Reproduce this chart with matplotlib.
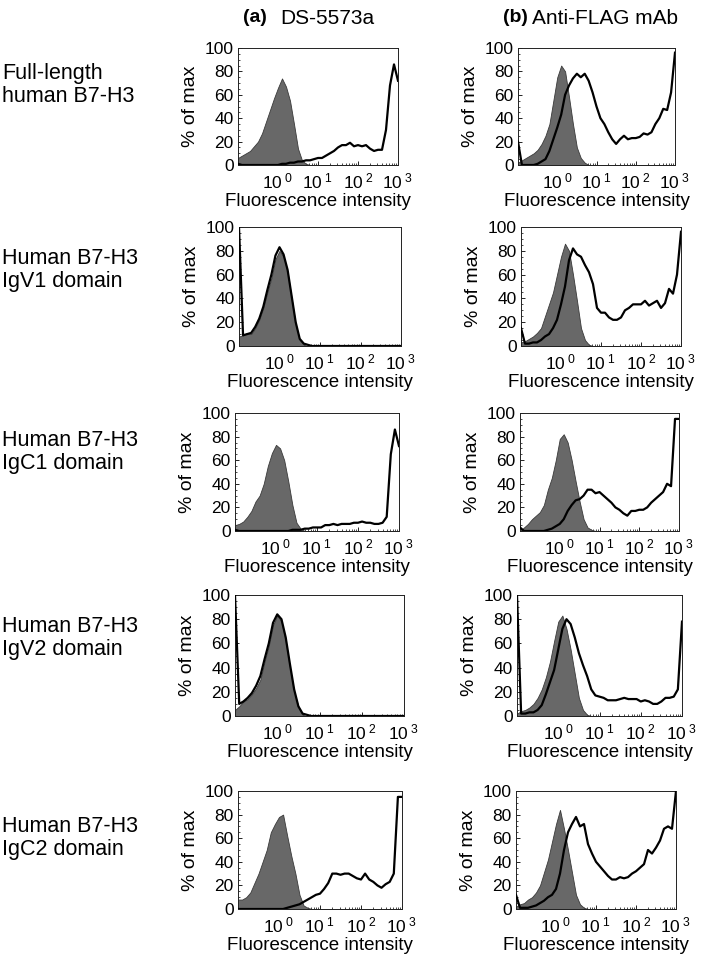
import matplotlib as mpl
import matplotlib.pyplot as plt
from matplotlib.ticker import FixedLocator, LogLocator, MultipleLocator, NullFormatter
import numpy as np

mpl.rcParams['font.family'] = ['Liberation Sans', 'DejaVu Sans']
mpl.rcParams['mathtext.fontset'] = 'custom'
mpl.rcParams['mathtext.rm'] = 'Liberation Sans'
mpl.rcParams['mathtext.it'] = 'Liberation Sans:italic'
mpl.rcParams['mathtext.bf'] = 'Liberation Sans:bold'

# bin centres, log10 of fluorescence intensity
log_x = [-1.0, -0.9, -0.8, -0.7, -0.6, -0.5, -0.4, -0.3, -0.2, -0.1,
         0.0, 0.1, 0.2, 0.3, 0.4, 0.5, 0.6, 0.7, 0.8, 0.9,
         1.0, 1.1, 1.2, 1.3, 1.4, 1.5, 1.6, 1.7, 1.8, 1.9,
         2.0, 2.1, 2.2, 2.3, 2.4, 2.5, 2.6, 2.7, 2.8, 2.9, 3.0]

row_labels = ['Full-length\nhuman B7-H3', 'Human B7-H3\nIgV1 domain', 'Human B7-H3\nIgC1 domain',
              'Human B7-H3\nIgV2 domain', 'Human B7-H3\nIgC2 domain']
col_tags = ['(a)', '(b)']
col_titles = ['DS-5573a', 'Anti-FLAG mAb']
tick_vals = [1, 10, 100, 1000]
tick_texts = [r'$\mathregular{10^{\ 0}}$', r'$\mathregular{10^{\ 1}}$',
              r'$\mathregular{10^{\ 2}}$', r'$\mathregular{10^{\ 3}}$']

# column (a): DS-5573a ; gray = control, line = stained
a1_ctrl = [6, 8, 10, 12, 16, 20, 27, 37, 47, 57, 66, 74, 67, 55, 35, 14, 4, 1, 0, 0,
           0, 0, 0, 0, 0, 0, 0, 0, 0, 0, 0, 0, 0, 0, 0, 0, 0, 0, 0, 0, 0]
a1_samp = [1, 0, 0, 0, 0, 0, 0, 0, 0, 0, 0, 1, 1, 2, 2, 3, 3, 4, 4, 5,
           6, 6, 8, 10, 12, 15, 17, 17, 19, 16, 17, 16, 17, 14, 12, 13, 13, 30, 68, 86, 72]
a2_ctrl = [8, 9, 11, 10, 15, 22, 32, 45, 57, 73, 80, 75, 62, 40, 18, 5, 1, 0, 0, 0,
           0, 0, 0, 0, 0, 0, 0, 0, 0, 0, 0, 0, 0, 0, 0, 0, 0, 0, 0, 0, 0]
a2_samp = [100, 9, 10, 11, 16, 23, 33, 47, 60, 76, 83, 77, 64, 42, 20, 6, 2, 1, 0, 0,
           0, 0, 0, 0, 0, 0, 0, 0, 0, 0, 0, 0, 0, 0, 0, 0, 0, 0, 0, 0, 0]
a3_ctrl = [5, 6, 8, 12, 17, 25, 30, 40, 55, 66, 73, 70, 60, 42, 22, 7, 2, 0, 0, 0,
           0, 0, 0, 0, 0, 0, 0, 0, 0, 0, 0, 0, 0, 0, 0, 0, 0, 0, 0, 0, 0]
a3_samp = [1, 0, 0, 0, 0, 0, 0, 0, 0, 0, 0, 0, 0, 0, 1, 1, 1, 2, 2, 3,
           3, 3, 5, 5, 6, 5, 6, 6, 6, 7, 7, 8, 7, 7, 6, 6, 7, 12, 65, 86, 72]
a4_ctrl = [5, 8, 12, 14, 18, 23, 30, 45, 58, 75, 83, 78, 62, 40, 20, 8, 1, 0, 0, 0,
           0, 0, 0, 0, 0, 0, 0, 0, 0, 0, 0, 0, 0, 0, 0, 0, 0, 0, 0, 0, 0]
a4_samp = [100, 10, 12, 15, 19, 25, 33, 47, 60, 77, 84, 80, 65, 43, 22, 8, 2, 1, 0, 0,
           0, 0, 0, 0, 0, 0, 0, 0, 0, 0, 0, 0, 0, 0, 0, 0, 0, 0, 0, 0, 0]
a5_ctrl = [8, 8, 10, 14, 22, 30, 40, 50, 65, 72, 78, 80, 62, 45, 30, 12, 3, 1, 0, 0,
           0, 0, 0, 0, 0, 0, 0, 0, 0, 0, 0, 0, 0, 0, 0, 0, 0, 0, 0, 0, 0]
a5_samp = [0, 0, 0, 0, 0, 0, 0, 0, 0, 0, 0, 0, 1, 2, 3, 4, 6, 8, 10, 12,
           13, 17, 22, 30, 30, 29, 30, 30, 28, 26, 25, 30, 25, 23, 20, 18, 21, 23, 30, 95, 95]

# column (b): anti-FLAG mAb
b1_ctrl = [2, 4, 6, 8, 10, 13, 18, 25, 35, 55, 75, 85, 80, 58, 35, 15, 6, 2, 0, 0,
           0, 0, 0, 0, 0, 0, 0, 0, 0, 0, 0, 0, 0, 0, 0, 0, 0, 0, 0, 0, 0]
b1_samp = [20, 0, 0, 0, 0, 1, 3, 5, 12, 22, 32, 43, 60, 68, 74, 78, 75, 78, 72, 62,
           50, 40, 35, 28, 22, 18, 22, 25, 22, 23, 23, 24, 27, 26, 28, 35, 40, 48, 47, 62, 96]
b2_ctrl = [3, 4, 6, 8, 11, 15, 25, 35, 45, 60, 75, 86, 80, 60, 38, 15, 5, 1, 0, 0,
           0, 0, 0, 0, 0, 0, 0, 0, 0, 0, 0, 0, 0, 0, 0, 0, 0, 0, 0, 0, 0]
b2_samp = [15, 2, 2, 3, 3, 5, 8, 10, 15, 22, 35, 50, 72, 82, 77, 75, 68, 62, 52, 32,
           28, 28, 24, 22, 22, 24, 30, 32, 35, 35, 35, 38, 34, 36, 38, 32, 36, 48, 44, 60, 96]
b3_ctrl = [0, 3, 6, 10, 13, 16, 22, 35, 45, 60, 78, 82, 75, 60, 42, 25, 10, 3, 1, 0,
           0, 0, 0, 0, 0, 0, 0, 0, 0, 0, 0, 0, 0, 0, 0, 0, 0, 0, 0, 0, 0]
b3_samp = [3, 0, 0, 0, 0, 0, 0, 1, 2, 4, 6, 10, 17, 22, 26, 27, 30, 35, 35, 32,
           33, 30, 27, 24, 20, 18, 15, 13, 17, 17, 18, 18, 20, 24, 27, 30, 33, 40, 38, 95, 95]
b4_ctrl = [2, 4, 5, 7, 10, 15, 22, 32, 45, 62, 78, 83, 72, 55, 35, 15, 5, 1, 0, 0,
           0, 0, 0, 0, 0, 0, 0, 0, 0, 0, 0, 0, 0, 0, 0, 0, 0, 0, 0, 0, 0]
b4_samp = [100, 2, 2, 3, 3, 5, 9, 18, 28, 38, 55, 72, 80, 76, 65, 52, 42, 33, 22, 17,
           16, 15, 13, 13, 13, 14, 15, 14, 14, 14, 12, 13, 12, 10, 10, 12, 15, 15, 16, 22, 78]
b5_ctrl = [2, 4, 5, 8, 10, 14, 20, 31, 42, 57, 72, 84, 68, 50, 31, 12, 4, 1, 0, 0,
           0, 0, 0, 0, 0, 0, 0, 0, 0, 0, 0, 0, 0, 0, 0, 0, 0, 0, 0, 0, 0]
b5_samp = [12, 1, 1, 1, 2, 3, 5, 7, 10, 12, 17, 30, 50, 65, 72, 78, 70, 72, 55, 47,
           40, 36, 32, 28, 25, 25, 27, 26, 27, 30, 32, 35, 38, 50, 47, 52, 58, 68, 70, 68, 100]

ctrl_list = [[a1_ctrl, b1_ctrl], [a2_ctrl, b2_ctrl], [a3_ctrl, b3_ctrl], [a4_ctrl, b4_ctrl], [a5_ctrl, b5_ctrl]]
samp_list = [[a1_samp, b1_samp], [a2_samp, b2_samp], [a3_samp, b3_samp], [a4_samp, b4_samp], [a5_samp, b5_samp]]

W, H = 709, 968
# axes boxes in pixels: (left, right) per column, (top, bottom) per row
col_box = [[(238, 398), (518, 675)],
           [(239, 401), (521, 681)],
           [(235, 399), (520, 679)],
           [(235, 404), (517, 682)],
           [(238, 402), (516, 676)]]
row_box = [(48, 165), (227, 346), (413, 531), (595, 716), (791, 909)]
row_label_y = [85, 270, 452, 638, 838]


def main():
    fig = plt.figure(figsize=(W / 100, H / 100), dpi=100)
    x = 10 ** np.array(log_x)

    for r in range(5):
        top, bot = row_box[r]
        for c in range(2):
            l, rr = col_box[r][c]
            ax = fig.add_axes([l / W, 1 - bot / H, (rr - l) / W, (bot - top) / H])
            ax.fill_between(x, ctrl_list[r][c], 0, color='#686868', edgecolor='#3a3a3a', linewidth=0.6, zorder=2)
            ax.plot(x, samp_list[r][c], color='black', linewidth=1.6, zorder=3)
            ax.set_xscale('log')
            ax.set_xlim(0.1, 1000)
            ax.set_ylim(0, 100)
            ax.xaxis.set_major_locator(FixedLocator(tick_vals))
            ax.set_xticklabels(tick_texts)
            ax.xaxis.set_minor_locator(LogLocator(base=10, subs=np.arange(2, 10)))
            ax.xaxis.set_minor_formatter(NullFormatter())
            ax.set_yticks([0, 20, 40, 60, 80, 100])
            ax.yaxis.set_minor_locator(MultipleLocator(5))
            ax.tick_params(axis='both', which='major', direction='in', length=3, width=0.6,
                           labelsize=12.5, pad=3)
            ax.tick_params(axis='both', which='minor', direction='in', length=1.5, width=0.5)
            ax.tick_params(axis='x', which='major', pad=5)
            for sp in ax.spines.values():
                sp.set_linewidth(0.7)
                sp.set_color('#222222')
            ax.set_ylabel('% of max', fontsize=14, labelpad=4)
            ax.set_xlabel('Fluorescence intensity', fontsize=13.5, labelpad=1)

        fig.text(2 / W, 1 - row_label_y[r] / H, row_labels[r], fontsize=15.5,
                 ha='left', va='center', linespacing=1.1)

    tag_x = [243, 503]
    title_x = [280, 532]
    for c in range(2):
        fig.text(tag_x[c] / W, 1 - 18 / H, col_tags[c], fontsize=14, fontweight='bold', ha='left', va='center')
        fig.text(title_x[c] / W, 1 - 18 / H, col_titles[c], fontsize=15, ha='left', va='center')

    fig.savefig('out.png', dpi=100)


if __name__ == '__main__':
    main()
